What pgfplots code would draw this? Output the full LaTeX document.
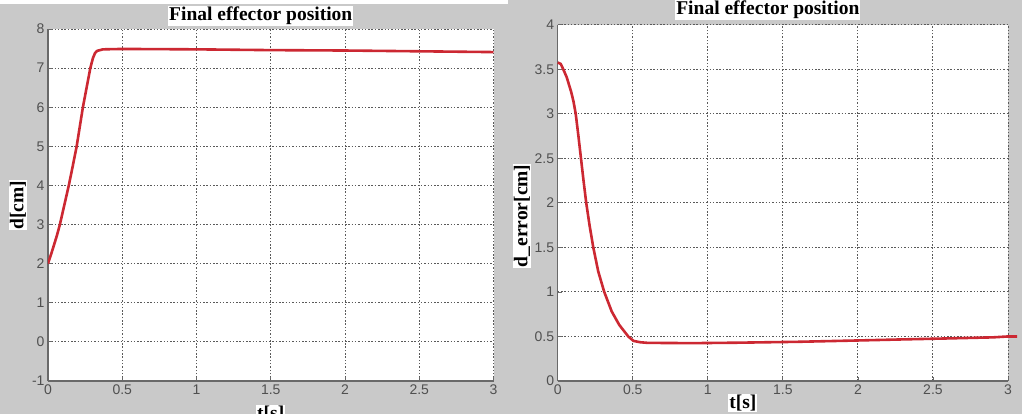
\documentclass[border=0pt]{standalone}
\usepackage{fontspec}
\setmainfont{Liberation Sans}
\newfontfamily\serifb{Liberation Serif}
\usepackage{pgfplots}
\pgfplotsset{compat=1.18}
\definecolor{bg}{RGB}{201,201,201}
\definecolor{curve}{RGB}{204,40,50}
\definecolor{axc}{RGB}{105,105,105}
\definecolor{tickc}{RGB}{80,80,80}
\definecolor{gridc}{RGB}{90,90,90}
\pgfplotsset{myax/.style={
  scale only axis,
  separate axis lines, axis x line*=bottom, axis y line*=left,
  axis line style={-, draw=axc, line width=1.4pt},
  axis background/.style={fill=white},
  grid=major,
  major grid style={gridc, line width=1pt, dash pattern=on 1.5pt off 1.8pt},
  tick align=inside, major tick length=4pt, tick style={axc, line width=0.8pt},
  xmin=0, xmax=3, xtick={0,0.5,1,1.5,2,2.5,3},
  xticklabels={0,0.5,1,1.5,2,2.5,3},
  ticklabel style={font=\fontsize{14}{16}\selectfont, text=tickc},
  /pgf/number format/assume math mode=true,
  title style={font=\serifb\bfseries\fontsize{19.5}{22}\selectfont, fill=white, inner sep=1pt, anchor=center, at={(axis description cs:0.5,1)}},
  label style={font=\serifb\bfseries\fontsize{19.5}{22}\selectfont, fill=white, inner sep=1pt, text=black},
  ylabel style={at={(axis description cs:0,0.5)}, anchor=center},
  xlabel style={at={(axis description cs:0.5,0)}, anchor=center},
}}
\begin{document}
\begin{tikzpicture}
\useasboundingbox (0,0) rectangle (1022pt,414pt);
\clip (0,0) rectangle (1022pt,414pt);
\fill[bg] (0,0) rectangle (1022pt,414pt);
\fill[white] (0,410pt) rectangle (508pt,414pt);
\begin{axis}[myax,
  at={(48pt,33pt)}, anchor=south west,
  width=445.5pt, height=352pt,
  ymin=-1, ymax=8, ytick={-1,0,1,2,3,4,5,6,7,8},
  yticklabels={-1,0,1,2,3,4,5,6,7,8},
  title={Final effector position},
  title style={yshift=7pt, xshift=-10pt},
  ylabel={d[cm]}, ylabel style={yshift=30pt},
  xlabel={t[s]}, xlabel style={yshift=-33pt},
]
\addplot[curve, line width=2.6pt, line join=round] coordinates {
(0,2) (0.03,2.35) (0.06,2.72) (0.08,3) (0.11,3.5) (0.14,4) (0.167,4.5)
(0.193,5) (0.214,5.5) (0.235,6) (0.26,6.5) (0.285,7) (0.302,7.25)
(0.316,7.38) (0.33,7.44) (0.37,7.48) (0.5,7.49) (1.0,7.48) (1.5,7.46)
(2.0,7.45) (2.5,7.43) (3,7.41)
};
\end{axis}
\begin{axis}[myax,
  at={(557.7pt,33pt)}, anchor=south west,
  width=450.3pt, height=356.3pt,
  ymin=0, ymax=4, ytick={0,0.5,1,1.5,2,2.5,3,3.5,4},
  yticklabels={0,0.5,1,1.5,2,2.5,3,3.5,4},
  clip=false,
  title={Final effector position},
  title style={yshift=9pt, xshift=-15pt},
  ylabel={d\_error[cm]}, ylabel style={yshift=35.7pt, xshift=-13pt},
  xlabel={t[s]}, xlabel style={yshift=-22pt, xshift=-40pt},
]
\addplot[curve, line width=2.6pt, line join=round] coordinates {
(0,3.575) (0.02,3.56) (0.037,3.5) (0.06,3.41) (0.089,3.25) (0.105,3.14)
(0.12,3.0) (0.138,2.75) (0.155,2.5) (0.172,2.25) (0.19,2.0) (0.212,1.75)
(0.237,1.5) (0.27,1.23) (0.31,1.0) (0.36,0.78) (0.41,0.63) (0.47,0.5)
(0.505,0.45) (0.55,0.435) (0.6,0.428) (0.9,0.425) (1.2,0.43) (1.6,0.44)
(2.0,0.455) (2.3,0.467) (2.6,0.478) (2.9,0.49) (3.0,0.5) (3.06,0.5)
};
\end{axis}
\end{tikzpicture}
\end{document}
